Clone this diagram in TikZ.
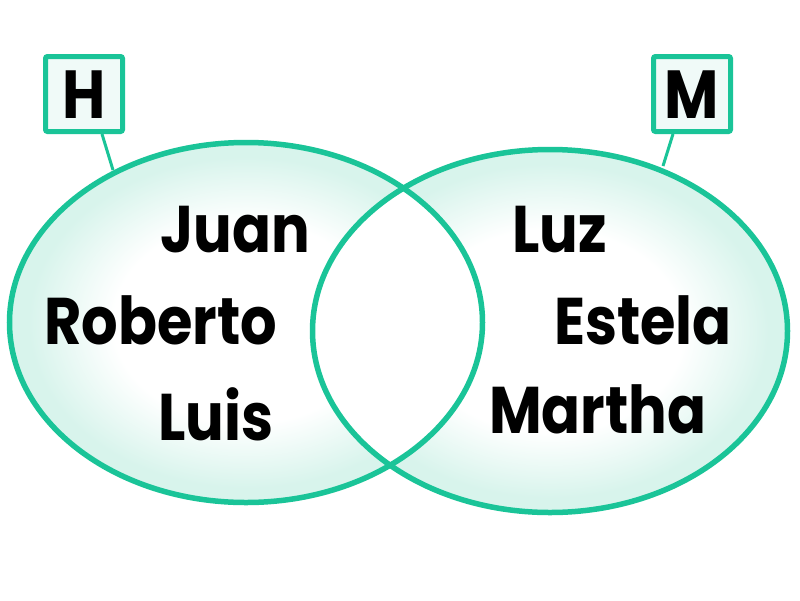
\documentclass[tikz,border=0pt]{standalone}
\usepackage{fontspec}
\newfontfamily\vennfont{Poppins}[FakeStretch=0.87]
\definecolor{vteal}{RGB}{26,196,152}
\definecolor{vlight}{RGB}{216,244,236}
\definecolor{boxfill}{RGB}{240,250,248}
\pgfdeclareradialshading{vennfill}{\pgfpoint{0bp}{0bp}}{color(0bp)=(white); color(14bp)=(white); color(23bp)=(vlight); color(25bp)=(vlight); color(50bp)=(vlight)}
\tikzset{
  vring/.style={draw=vteal, line width=5.5pt},
  namelabel/.style={anchor=base west, inner sep=0pt, font=\vennfont\bfseries\fontsize{66}{66}\selectfont, text=black},
  setbox/.style={draw=vteal, line width=5pt, fill=boxfill, rounded corners=2pt, minimum width=77pt, minimum height=75pt, inner sep=0pt},
  setletter/.style={anchor=base, inner sep=0pt, font=\vennfont\bfseries\fontsize{68}{68}\selectfont},
  tieline/.style={draw=vteal, line width=3pt}
}
\begin{document}
\begin{tikzpicture}[x=1pt,y=-1pt]
\useasboundingbox (0,0) rectangle (800,600);
\fill[white] (0,0) rectangle (800,600);
% shaded ellipses
\shade[shading=vennfill] (246,322.5) ellipse [x radius=236.5, y radius=180];
\shade[shading=vennfill] (550,331) ellipse [x radius=237.5, y radius=181.5];
\begin{scope}
  \clip (246,322.5) ellipse [x radius=236.5, y radius=180];
  \fill[white] (550,331) ellipse [x radius=237.5, y radius=181.5];
\end{scope}
\path[vring] (246,322.5) ellipse [x radius=236.5, y radius=180];
\path[vring] (550,331) ellipse [x radius=237.5, y radius=181.5];
\coordinate (hfoot) at (113,170);
\coordinate (mfoot) at (663,166);
% labels
\node[setbox] (H) at (84,94) {};
\node[setbox] (M) at (692,94) {};
\node[setletter] (Hl) at (84,118) {H};
\node[setletter] (Ml) at (692,118) {M};
\draw[tieline] (H.south -| 102,0) -- (hfoot);
\draw[tieline] (M.south -| 673,0) -- (mfoot);
% names
\node[namelabel] (juan) at (160,252) {Juan};
\node[namelabel] (roberto) at (44,344) {Roberto};
\node[namelabel] (luis) at (158,440) {Luis};
\node[namelabel] (luz) at (512,252) {Luz};
\node[namelabel] (estela) at (554,344) {Estela};
\node[namelabel] (martha) at (489,433) {Martha};
\end{tikzpicture}
\end{document}
